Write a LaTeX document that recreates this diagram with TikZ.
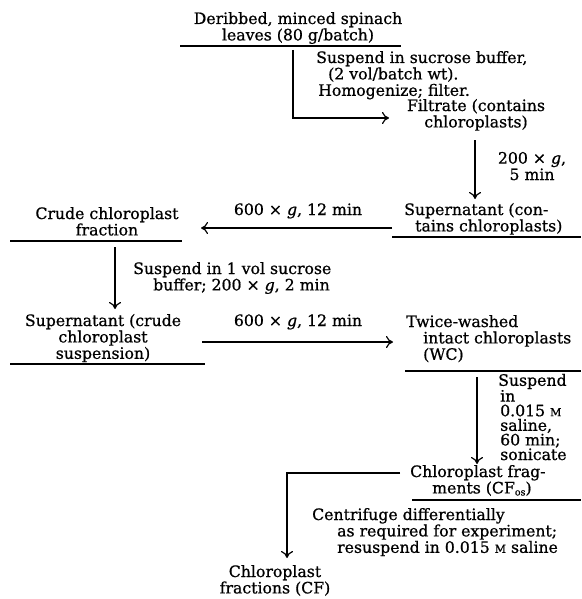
\documentclass[tikz,border=0pt]{standalone}
\usepackage{fontspec}
\setmainfont[FakeBold=0.8]{DejaVu Serif}
\usetikzlibrary{arrows.meta}
\newcommand\mainfs{\fontsize{15.7}{16.4}\selectfont}
\newcommand\molar{{\fontsize{11}{11}\selectfont M}}
\begin{document}
\begin{tikzpicture}[x=1pt,y=-1pt,
  txt/.style={font=\mainfs, inner sep=0pt},
  rule/.style={line width=1.2pt},
  arr/.style={line width=1.2pt, -{To[length=7pt,width=12pt]}}]
\useasboundingbox (0,0) rectangle (581,599);

% nodes (anchor = baseline of the last line)
\node[txt, anchor=base, align=center] (top) at (298,40.4) {Deribbed, minced spinach\\leaves (80 g/batch)};
\node[txt, anchor=base west, align=left] (s1) at (316,95.8) {Suspend in sucrose buffer,\\\hspace{12pt}(2 vol/batch wt).\\\hspace{2pt}Homogenize; filter.};
\node[txt, anchor=base, align=center] (filt) at (476,127.4) {Filtrate (contains\\chloroplasts)};
\node[txt, anchor=base, align=center] (g1) at (532,180) {200 × \textit{g},\\5 min};
\node[txt, anchor=base west, align=left] (sup1) at (404,231.4) {Supernatant (con-\\\hspace{11pt}tains chloroplasts)};
\node[txt, anchor=base] (g2) at (298,215) {600 × \textit{g}, 12 min};
\node[txt, anchor=base, align=center] (crude) at (107,235.4) {Crude chloroplast\\fraction};
\node[txt, anchor=base west, align=left] (s2) at (133,290.4) {Suspend in 1 vol sucrose\\\hspace{20pt}buffer; 200 × \textit{g}, 2 min};
\node[txt, anchor=base, align=center] (sup2) at (103,358.8) {Supernatant (crude\\chloroplast\\suspension)};
\node[txt, anchor=base] (g3) at (298,326) {600 × \textit{g}, 12 min};
\node[txt, anchor=base west, align=left] (wc) at (406,359.8) {Twice-washed\\\hspace{17pt}intact chloroplasts\\\hspace{17pt}(WC)};
\node[txt, anchor=base west, align=left, font=\fontsize{15.7}{14.6}\selectfont] (s3) at (498,460) {Suspend\\\hspace{2pt}in\\\hspace{2pt}0.015 \molar\\\hspace{2pt}saline,\\\hspace{2pt}60 min;\\\hspace{2pt}sonicate};
\node[txt, anchor=base west, align=left] (cfos) at (410,493.4) {Chloroplast frag-\\\hspace{22pt}ments (CF\raisebox{-2pt}{\fontsize{9.5}{9.5}\selectfont os})};
\node[txt, anchor=base west, align=left] (s4) at (312,552.8) {Centrifuge differentially\\\hspace{25pt}as required for experiment;\\\hspace{25pt}resuspend in 0.015 \molar{} saline};
\node[txt, anchor=base, align=center] (cf) at (275,593.4) {Chloroplast\\fractions (CF)};

% coordinates
\coordinate (a1s) at (293,50);   \coordinate (a1e) at (389,118);
\coordinate (a2s) at (475,140);  \coordinate (a2e) at (475,199);
\coordinate (a3s) at (392,228);  \coordinate (a3e) at (201,228);
\coordinate (a4s) at (115,247);  \coordinate (a4e) at (115,309);
\coordinate (a5s) at (202,342);  \coordinate (a5e) at (393,342);
\coordinate (a6s) at (477,377);  \coordinate (a6e) at (477,464);
\coordinate (a7s) at (400,473);  \coordinate (a7e) at (287,558);

% underlines
\draw[rule] (180,46) -- (401,46);
\draw[rule] (392,237) -- (581,237);
\draw[rule] (10,241) -- (182,241);
\draw[rule] (10,364) -- (205,364);
\draw[rule] (405,371) -- (581,371);
\draw[rule] (412,500) -- (581,500);

% connectors
\draw[arr] (a1s) |- (a1e);
\draw[arr] (a2s) -- (a2e);
\draw[arr] (a3s) -- (a3e);
\draw[arr] (a4s) -- (a4e);
\draw[arr] (a5s) -- (a5e);
\draw[arr] (a6s) -- (a6e);
\draw[arr] (a7s) -| (a7e);
\end{tikzpicture}
\end{document}
